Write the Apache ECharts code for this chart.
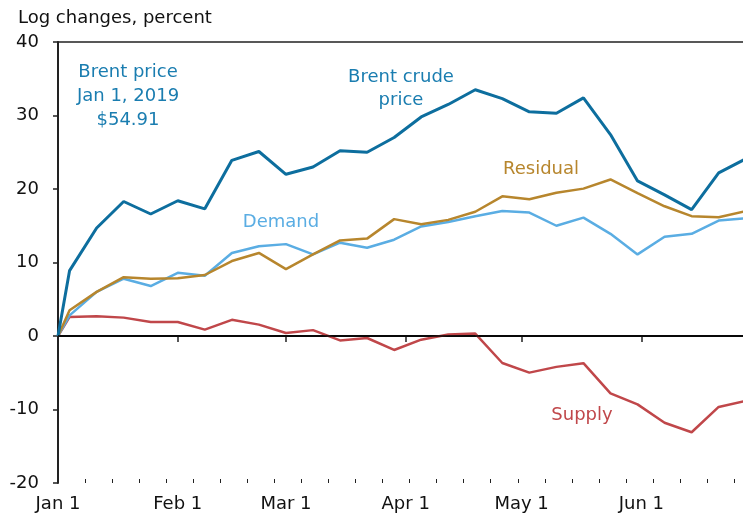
<!DOCTYPE html>
<html>
<head>
<meta charset="utf-8">
<script src="https://cdn.jsdelivr.net/npm/echarts@6/dist/echarts.min.js"></script>
<style>
  html, body { margin: 0; padding: 0; background: #fff; }
  #chart { width: 743px; height: 520px; }
</style>
</head>
<body>
<div id="chart"></div>
<script>
// weekly observations (Fridays), plus the Jan 1 base point
var dates = ["2019-01-01", "2019-01-04", "2019-01-11", "2019-01-18", "2019-01-25",
  "2019-02-01", "2019-02-08", "2019-02-15", "2019-02-22", "2019-03-01", "2019-03-08",
  "2019-03-15", "2019-03-22", "2019-03-29", "2019-04-05", "2019-04-12", "2019-04-19",
  "2019-04-26", "2019-05-03", "2019-05-10", "2019-05-17", "2019-05-24", "2019-05-31",
  "2019-06-07", "2019-06-14", "2019-06-21", "2019-06-28"];

var brent = [0, 8.9, 14.7, 18.3, 16.6, 18.4, 17.3, 23.9, 25.1, 22.0, 23.0, 25.2, 25.0,
  27.0, 29.8, 31.5, 33.5, 32.3, 30.5, 30.3, 32.4, 27.4, 21.1, 19.2, 17.2, 22.2, 24.1];
var demand = [0, 2.8, 6.0, 7.8, 6.8, 8.6, 8.2, 11.3, 12.2, 12.5, 11.1, 12.7, 12.0,
  13.1, 14.9, 15.5, 16.3, 17.0, 16.8, 15.0, 16.1, 13.9, 11.1, 13.5, 13.9, 15.7, 16.0];
var residual = [0, 3.5, 6.0, 8.0, 7.8, 7.85, 8.3, 10.2, 11.3, 9.1, 11.1, 13.0, 13.25,
  15.9, 15.2, 15.8, 16.9, 19.0, 18.6, 19.5, 20.05, 21.3, 19.45, 17.65, 16.3, 16.15, 17.0];
var supply = [0, 2.6, 2.7, 2.5, 1.9, 1.9, 0.87, 2.2, 1.55, 0.4, 0.8, -0.6, -0.27,
  -1.9, -0.5, 0.19, 0.33, -3.67, -4.98, -4.2, -3.7, -7.8, -9.3, -11.8, -13.1, -9.65, -8.84];

// x axis: month starts (labelled) and weekly minor ticks, in days since Jan 1
var monthDays = [0, 31, 59, 90, 120, 151];
var monthLabels = ["Jan 1", "Feb 1", "Mar 1", "Apr 1", "May 1", "Jun 1"];
var weekDays = [7, 14, 21, 28, 35, 42, 49, 56, 63, 70, 77, 84, 91, 98, 105, 112, 119,
  126, 133, 140, 147, 154, 161, 168, 175];

var yTicks = [-20, -10, 0, 10, 20, 30, 40];

var base = Date.UTC(2019, 0, 1);
function dayOf(s) {
  var p = s.split("-");
  return (Date.UTC(+p[0], +p[1] - 1, +p[2]) - base) / 86400000;
}
function pairs(vals) {
  return vals.map(function (v, i) { return [dayOf(dates[i]), v]; });
}

var FONT = "DejaVu Sans";
var XMAX = 177.3;

var chart = echarts.init(document.getElementById("chart"));
var option = {
  animation: false,
  backgroundColor: "#fff",
  textStyle: { fontFamily: FONT },
  title: {
    text: "Log changes, percent",
    left: 13, top: 4,
    textStyle: { fontFamily: FONT, fontSize: 18, fontWeight: "normal", color: "#111" }
  },
  grid: { left: 58, right: 0, top: 42, bottom: 37 },
  xAxis: [
    {
      type: "value", min: 0, max: XMAX, position: "bottom",
      splitLine: { show: false },
      axisLine: { lineStyle: { color: "#222", width: 2 } },
      axisTick: { show: true, customValues: monthDays, length: 6, lineStyle: { color: "#222", width: 1.5 } },
      axisLabel: {
        customValues: monthDays, margin: 12, fontSize: 18, fontFamily: FONT, color: "#111",
        formatter: function (v) { return monthLabels[monthDays.indexOf(v)] || ""; }
      }
    },
    {
      type: "value", min: 0, max: XMAX, position: "bottom",
      splitLine: { show: false },
      axisLine: { show: false },
      axisTick: { show: true, inside: true, customValues: weekDays, length: 4, lineStyle: { color: "#222", width: 1 } },
      axisLabel: { show: false }
    },
    {
      type: "value", min: 0, max: XMAX, position: "top",
      splitLine: { show: false },
      axisLine: { lineStyle: { color: "#222", width: 1.5 } },
      axisTick: { show: false },
      axisLabel: { show: false }
    }
  ],
  yAxis: {
    type: "value", min: -20, max: 40, interval: 10,
    splitLine: { show: false },
    axisLine: { show: true, lineStyle: { color: "#222", width: 2 } },
    axisTick: { show: true, length: 5, customValues: yTicks, lineStyle: { color: "#222", width: 1.5 } },
    axisLabel: { margin: 19, fontSize: 18, fontFamily: FONT, color: "#111" }
  },
  series: [
    {
      name: "Supply", type: "line", data: pairs(supply), symbol: "none",
      lineStyle: { color: "#c0474a", width: 2.5 },
      markLine: {
        silent: true, symbol: "none", label: { show: false },
        lineStyle: { color: "#000", width: 1.5, type: "solid" },
        data: [{ yAxis: 0 }]
      }
    },
    {
      name: "Demand", type: "line", data: pairs(demand), symbol: "none",
      lineStyle: { color: "#5aade3", width: 2.5 }
    },
    {
      name: "Residual", type: "line", data: pairs(residual), symbol: "none",
      lineStyle: { color: "#b7862d", width: 2.5 }
    },
    {
      name: "Brent crude price", type: "line", data: pairs(brent), symbol: "none",
      lineStyle: { color: "#0d6e9e", width: 3 }
    }
  ],
  graphic: [
    {
      type: "text", x: 128, y: 96,
      style: {
        text: "Brent price\nJan 1, 2019\n$54.91", fill: "#1a7db0",
        font: "18px " + FONT, align: "center", verticalAlign: "middle", lineHeight: 24
      }
    },
    {
      type: "text", x: 401, y: 89,
      style: {
        text: "Brent crude\nprice", fill: "#1a7db0",
        font: "18px " + FONT, align: "center", verticalAlign: "middle", lineHeight: 23
      }
    },
    {
      type: "text", x: 541, y: 169,
      style: { text: "Residual", fill: "#b7862d", font: "18px " + FONT, align: "center", verticalAlign: "middle" }
    },
    {
      type: "text", x: 281, y: 222,
      style: { text: "Demand", fill: "#5aade3", font: "18px " + FONT, align: "center", verticalAlign: "middle" }
    },
    {
      type: "text", x: 582, y: 415,
      style: { text: "Supply", fill: "#c0474a", font: "18px " + FONT, align: "center", verticalAlign: "middle" }
    }
  ]
};
chart.setOption(option);
</script>
</body>
</html>
